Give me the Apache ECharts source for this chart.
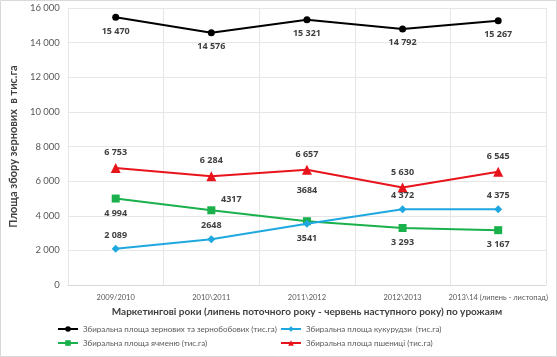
<!DOCTYPE html>
<html><head><meta charset="utf-8">
<script src="https://cdn.jsdelivr.net/npm/echarts@6/dist/echarts.min.js"></script>
<style>html,body{margin:0;padding:0;background:#fff}#c{width:557px;height:357px}</style>
</head><body><div id="c"></div>
<script>
var categories = ['2009/2010', '2010\\2011', '2011\\2012', '2012\\2013', '2013\\14 (липень - листопад)'];
var grainTotal = [15470, 14576, 15321, 14792, 15267];
var corn = [2089, 2648, 3541, 4372, 4375];
var barley = [4994, 4317, 3684, 3293, 3167];
var wheat = [6753, 6284, 6657, 5630, 6545];
var grainTotalLabels = ['15 470', '14 576', '15 321', '14 792', '15 267'];
var cornLabels = ['2 089', '2648', '3541', '4 372', '4 375'];
var barleyLabels = ['4 994', '4317', '3684', '3 293', '3 167'];
var wheatLabels = ['6 753', '6 284', '6 657', '5 630', '6 545'];
var seriesNames = ['Збиральна площа зернових та зернобобових (тис.га)', 'Збиральна площа кукурудзи  (тис.га)', 'Збиральна площа ячменю (тис.га)', 'Збиральна площа пшениці (тис.га)'];
var yTicks = [0, 2000, 4000, 6000, 8000, 10000, 12000, 14000, 16000];

var FONT = 'Lato';
var labelBase = {show: true, fontFamily: 'Open Sans', fontSize: 9, fontWeight: 'bold', color: '#404040'};

function build(values, labels, posFn) {
  return values.map(function (v, i) {
    var p = posFn(i);
    return {value: v, label: Object.assign({}, labelBase, {formatter: labels[i], position: p.position, offset: p.offset || [0, 0], distance: p.distance || 5})};
  });
}

var chart = echarts.init(document.getElementById('c'));
chart.setOption({
  animation: false,
  backgroundColor: '#fff',
  graphic: [{type: 'rect', shape: {x: 0.5, y: 0.5, width: 556, height: 356}, style: {fill: 'none', stroke: '#d9d9d9', lineWidth: 1}, silent: true}],
  grid: {left: 60, right: 11, top: 8, bottom: 72},
  xAxis: {
    type: 'category', data: categories, boundaryGap: true,
    axisLine: {lineStyle: {color: '#d9d9d9'}},
    axisTick: {show: false},
    splitLine: {show: true, lineStyle: {color: '#e6e6e6'}},
    axisLabel: {fontFamily: FONT, fontSize: 7.5, color: '#595959', margin: 9, interval: 0},
    name: 'Маркетингові роки (липень поточного року - червень наступного року) по урожаям',
    nameLocation: 'middle', nameGap: 20,
    nameTextStyle: {fontFamily: FONT, fontSize: 10, fontWeight: 'bold', color: '#404040'}
  },
  yAxis: {
    type: 'value', min: 0, max: 16000, interval: 2000,
    axisLine: {show: false}, axisTick: {show: false},
    splitLine: {lineStyle: {color: '#e6e6e6'}},
    axisLabel: {fontFamily: FONT, fontSize: 9.5, color: '#595959', margin: 8,
      formatter: function (v) { return yTicks.indexOf(v) >= 0 ? String(v).replace(/\B(?=(\d{3})+(?!\d))/g, ' ') : ''; }},
    name: 'Площа збору зернових  в тис.га', nameLocation: 'middle', nameGap: 37,
    nameTextStyle: {fontFamily: FONT, fontSize: 11, fontWeight: 'bold', color: '#404040'}
  },
  legend: [
    {data: [seriesNames[0], seriesNames[2]], orient: 'vertical', left: 57, top: 325, itemGap: 6, itemWidth: 20, itemHeight: 7,
      textStyle: {fontFamily: FONT, fontSize: 8, color: '#595959'}, padding: 0},
    {data: [seriesNames[1], seriesNames[3]], orient: 'vertical', left: 280, top: 325, itemGap: 6, itemWidth: 20, itemHeight: 7,
      textStyle: {fontFamily: FONT, fontSize: 8, color: '#595959'}, padding: 0}
  ],
  series: [
    {name: seriesNames[0], type: 'line', data: build(grainTotal, grainTotalLabels, function () { return {position: 'bottom', distance: 6}; }),
      symbol: 'circle', symbolSize: 7, lineStyle: {color: '#000', width: 2}, itemStyle: {color: '#000'}, z: 4},
    {name: seriesNames[1], type: 'line', data: build(corn, cornLabels, function (i) { return i === 2 ? {position: 'bottom', distance: 6} : {position: 'top', distance: 5}; }),
      symbol: 'diamond', symbolSize: 8, lineStyle: {color: '#1fa8e0', width: 2}, itemStyle: {color: '#1fa8e0'}, z: 3},
    {name: seriesNames[2], type: 'line', data: build(barley, barleyLabels, function (i) {
        if (i === 1) return {position: 'top', offset: [20, 3]};
        if (i === 2) return {position: 'top', offset: [0, -17]};
        return {position: 'bottom', distance: 6};
      }),
      symbol: 'rect', symbolSize: 8, lineStyle: {color: '#1ab04b', width: 2}, itemStyle: {color: '#1ab04b'}, z: 2},
    {name: seriesNames[3], type: 'line', data: build(wheat, wheatLabels, function () { return {position: 'top', distance: 6}; }),
      symbol: 'triangle', symbolSize: 10, lineStyle: {color: '#e8141c', width: 2}, itemStyle: {color: '#e8141c'}, z: 3}
  ]
});
</script></body></html>
